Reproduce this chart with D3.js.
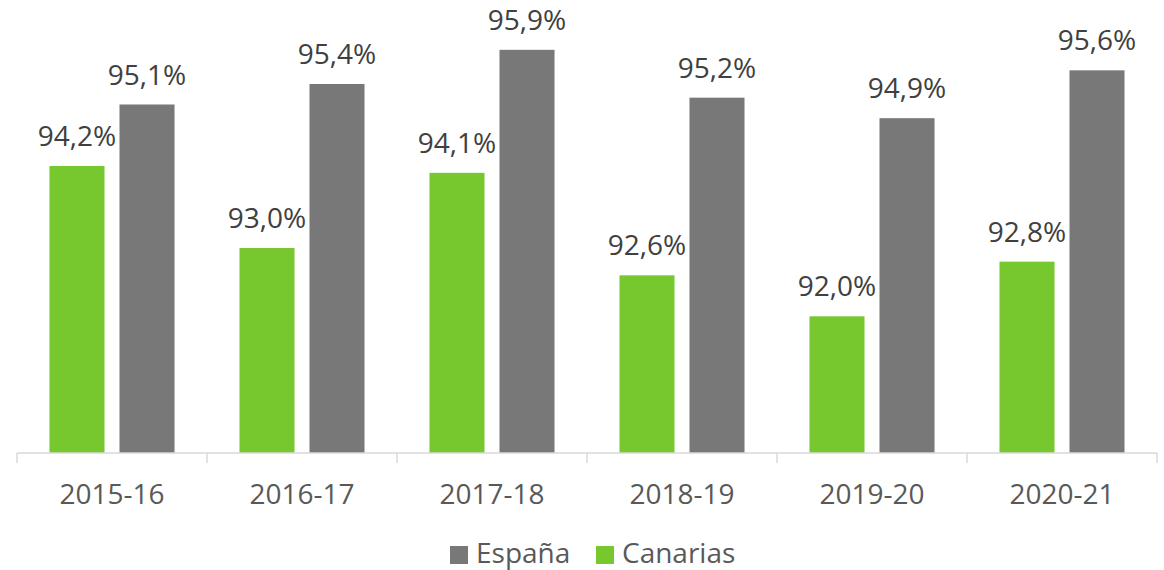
<!DOCTYPE html>
<html>
<head>
<meta charset="utf-8">
<script src="https://cdn.jsdelivr.net/npm/d3@7"></script>
<style>
  body { margin: 0; background: #fff; }
  text { font-family: "Open Sans", sans-serif; }
</style>
</head>
<body>
<div id="chart"></div>
<script>
// data
var years = ["2015-16", "2016-17", "2017-18", "2018-19", "2019-20", "2020-21"];
var canarias = [94.2, 93.0, 94.1, 92.6, 92.0, 92.8];
var espana = [95.1, 95.4, 95.9, 95.2, 94.9, 95.6];
var seriesNames = ["Canarias", "España"];
var legendOrder = ["España", "Canarias"];

var width = 1164, height = 570;
var margin = { top: 43, right: 7, bottom: 117, left: 17 };
var innerW = width - margin.left - margin.right,
    innerH = height - margin.top - margin.bottom;

var color = d3.scaleOrdinal()
    .domain(seriesNames)
    .range(["#77c72e", "#787878"]);

var svg = d3.select("#chart")
    .append("svg")
    .attr("width", width)
    .attr("height", height)
    .append("g")
    .attr("transform", "translate(" + margin.left + "," + margin.top + ")");

var x = d3.scaleBand()
    .domain(years)
    .range([0, innerW]);

// two bars per year
var x1 = d3.scaleBand()
    .domain(seriesNames)
    .range([0, x.bandwidth()])
    .paddingInner(0.214)
    .paddingOuter(0.464);

var y = d3.scaleLinear()
    .domain([90, 96])
    .range([innerH, 0]);

var rows = years.map(function (yr, i) {
    return { year: yr, values: [
        { key: "Canarias", value: canarias[i] },
        { key: "España", value: espana[i] }
    ] };
});

// bars
var groups = svg.selectAll(".grp")
    .data(rows)
    .enter()
    .append("g")
    .attr("transform", function (d) { return "translate(" + x(d.year) + ",0)"; });

groups.selectAll("rect")
    .data(function (d) { return d.values; })
    .enter()
    .append("rect")
    .attr("x", function (d) { return x1(d.key); })
    .attr("y", function (d) { return y(d.value); })
    .attr("width", x1.bandwidth())
    .attr("height", function (d) { return innerH - y(d.value); })
    .style("fill", function (d) { return color(d.key); });

// value labels
groups.selectAll("text.val")
    .data(function (d) { return d.values; })
    .enter()
    .append("text")
    .attr("class", "val")
    .attr("x", function (d) { return x1(d.key) + x1.bandwidth() / 2; })
    .attr("y", function (d) { return y(d.value) - 20; })
    .attr("text-anchor", "middle")
    .style("font-size", "28px")
    .style("fill", "#404040")
    .text(function (d) { return d.value.toFixed(1).replace(".", ",") + "%"; });

// x axis
var xAxis = svg.append("g")
    .attr("transform", "translate(0," + innerH + ")");
xAxis.append("line")
    .attr("x1", 0).attr("x2", innerW)
    .attr("y1", 0).attr("y2", 0)
    .style("stroke", "#d9d9d9").style("stroke-width", 1.5);
xAxis.selectAll("line.tick")
    .data(years.concat(["end"]))
    .enter()
    .append("line")
    .attr("x1", function (d) { return d === "end" ? innerW : x(d); })
    .attr("x2", function (d) { return d === "end" ? innerW : x(d); })
    .attr("y1", 0).attr("y2", 10)
    .style("stroke", "#d9d9d9").style("stroke-width", 1.5);
xAxis.selectAll("text")
    .data(years)
    .enter()
    .append("text")
    .attr("x", function (d) { return x(d) + x.bandwidth() / 2; })
    .attr("y", 51)
    .attr("text-anchor", "middle")
    .style("font-size", "28px")
    .style("fill", "#595959")
    .text(function (d) { return d; });

// legend
var legendX = [450 - margin.left, 596 - margin.left];
var legend = svg.selectAll(".leg")
    .data(legendOrder)
    .enter()
    .append("g")
    .attr("transform", function (d, i) { return "translate(" + legendX[i] + "," + (546 - margin.top) + ")"; });
legend.append("rect")
    .attr("width", 18).attr("height", 18)
    .style("fill", function (d) { return color(d); });
legend.append("text")
    .attr("x", 26)
    .attr("y", 17)
    .style("font-size", "28px")
    .style("fill", "#595959")
    .text(function (d) { return d; });
</script>
</body>
</html>
